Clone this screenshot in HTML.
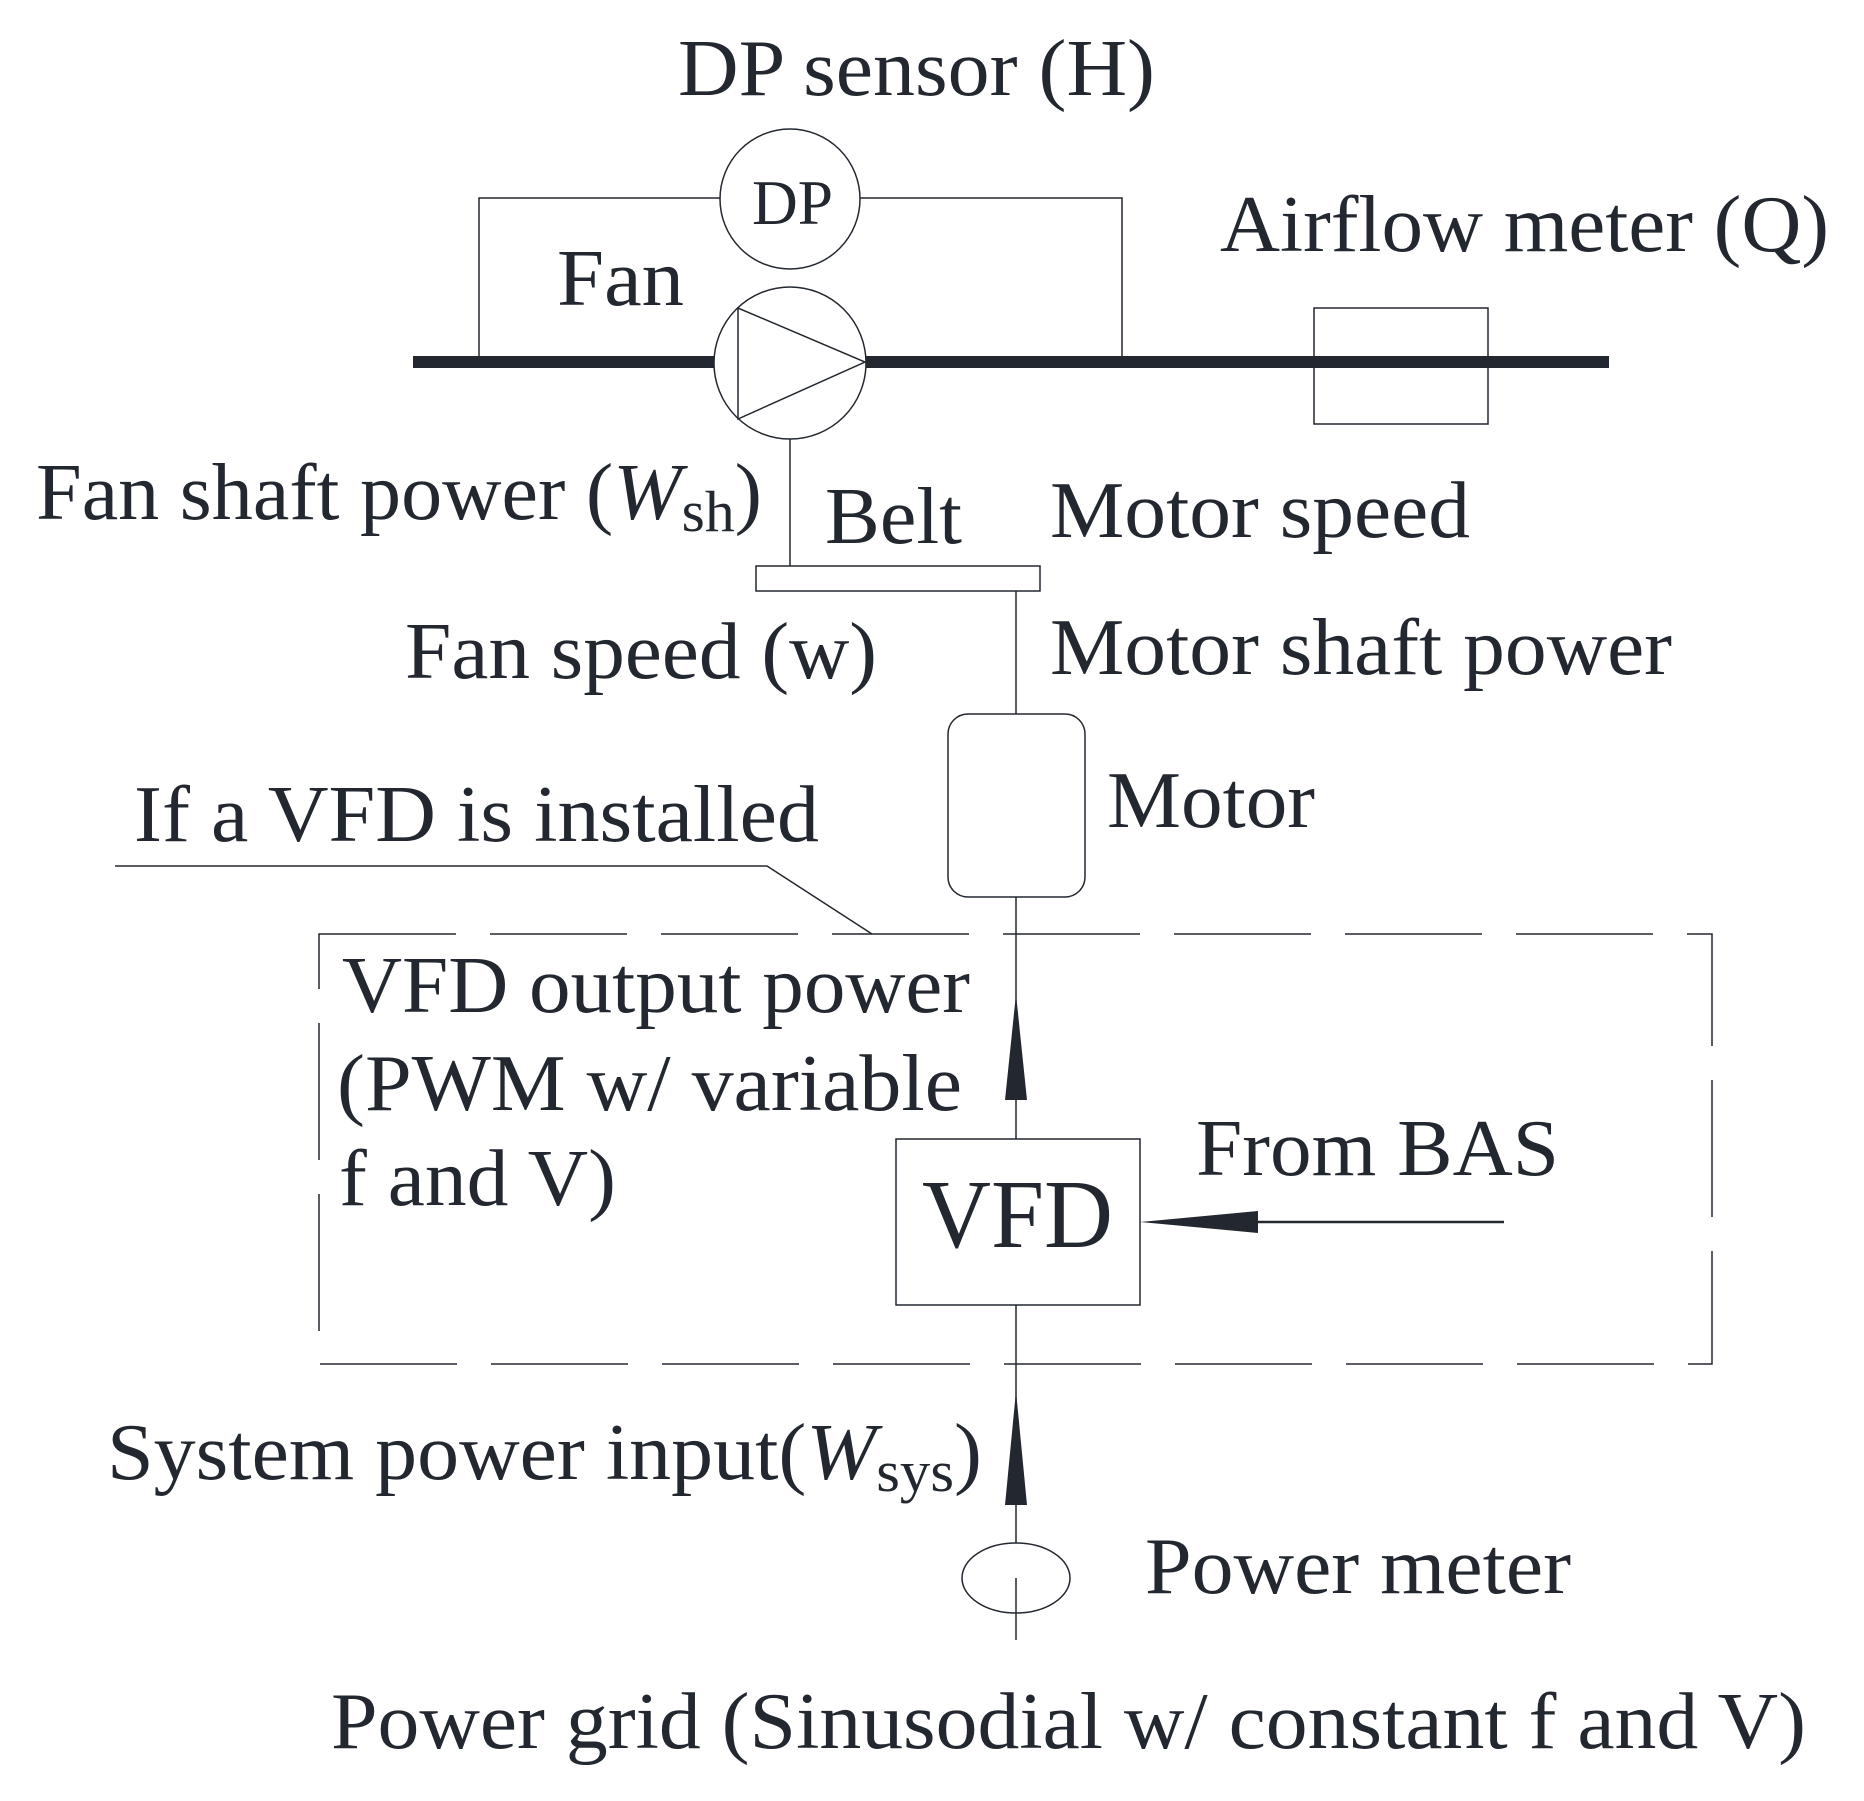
<!DOCTYPE html>
<html><head><meta charset="utf-8"><style>
html,body{margin:0;padding:0;background:#fff;}
svg{display:block;}
text{font-family:"Liberation Serif",serif;fill:#232830;}
</style></head><body>
<svg width="1864" height="1801" viewBox="0 0 1864 1801" xmlns="http://www.w3.org/2000/svg">
<g stroke="#232830" fill="none" stroke-width="1.5">
<polyline points="479,362 479,198 720,198"/>
<polyline points="860,198 1122,198 1122,362"/>
<circle cx="790" cy="199" r="70"/>
<circle cx="790" cy="363" r="76"/>
<polygon points="738,308 738,419 865,362"/>
<line x1="790" y1="439" x2="790" y2="566"/>
<rect x="756" y="566" width="284" height="25"/>
<line x1="1016" y1="591" x2="1016" y2="714"/>
<rect x="1314" y="308" width="174" height="116"/>
<rect x="948" y="714" width="137" height="183" rx="20" ry="20"/>
<line x1="1016" y1="897" x2="1016" y2="1139"/>
<polyline points="115,866 767,866 872,934"/>
<rect x="319" y="934" width="1393" height="430" stroke-dasharray="137,34"/>
<rect x="896" y="1139" width="244" height="166"/>
<line x1="1016" y1="1305" x2="1016" y2="1543"/>
<line x1="1016" y1="1578" x2="1016" y2="1640"/>
<ellipse cx="1016" cy="1578" rx="54" ry="35"/>
<line x1="1258" y1="1222" x2="1504" y2="1222" stroke-width="2.5"/>
</g>
<g fill="#232830">
<rect x="413" y="356" width="301" height="12"/>
<rect x="866" y="356" width="743" height="12"/>
<polygon points="1016,994 1005,1100 1027,1100"/>
<polygon points="1016,1391 1005,1505 1027,1505"/>
<polygon points="1140,1222 1258,1211 1258,1233"/>
</g>
<g font-size="80">
<text x="678" y="95" textLength="477" lengthAdjust="spacingAndGlyphs">DP sensor (H)</text>
<text x="752" y="224" font-size="64" textLength="81" lengthAdjust="spacingAndGlyphs">DP</text>
<text x="557" y="305" textLength="127" lengthAdjust="spacingAndGlyphs">Fan</text>
<text x="1220" y="251" textLength="609" lengthAdjust="spacingAndGlyphs">Airflow meter (Q)</text>
<text x="36" y="519" textLength="726" lengthAdjust="spacingAndGlyphs">Fan shaft power (<tspan font-style="italic">W</tspan><tspan font-size="58" dy="12">sh</tspan><tspan dy="-12">)</tspan></text>
<text x="825" y="543" textLength="137" lengthAdjust="spacingAndGlyphs">Belt</text>
<text x="1050" y="537" textLength="420" lengthAdjust="spacingAndGlyphs">Motor speed</text>
<text x="405" y="678" textLength="472" lengthAdjust="spacingAndGlyphs">Fan speed (w)</text>
<text x="1050" y="674" textLength="622" lengthAdjust="spacingAndGlyphs">Motor shaft power</text>
<text x="1107" y="827" textLength="208" lengthAdjust="spacingAndGlyphs">Motor</text>
<text x="134" y="841" textLength="685" lengthAdjust="spacingAndGlyphs">If a VFD is installed</text>
<text x="342" y="1012" textLength="628" lengthAdjust="spacingAndGlyphs">VFD output power</text>
<text x="337" y="1110" textLength="625" lengthAdjust="spacingAndGlyphs">(PWM w/ variable</text>
<text x="339" y="1205" textLength="277" lengthAdjust="spacingAndGlyphs">f and V)</text>
<text x="1196" y="1175" textLength="363" lengthAdjust="spacingAndGlyphs">From BAS</text>
<text x="922" y="1247" font-size="98" textLength="191" lengthAdjust="spacingAndGlyphs">VFD</text>
<text x="107" y="1479" textLength="875" lengthAdjust="spacingAndGlyphs">System  power input(<tspan font-style="italic">W</tspan><tspan font-size="58" dy="12">sys</tspan><tspan dy="-12">)</tspan></text>
<text x="1145" y="1593" textLength="426" lengthAdjust="spacingAndGlyphs">Power meter</text>
<text x="331" y="1748" textLength="1475" lengthAdjust="spacingAndGlyphs">Power grid (Sinusodial w/ constant f and V)</text>
</g>
</svg>
</body></html>
